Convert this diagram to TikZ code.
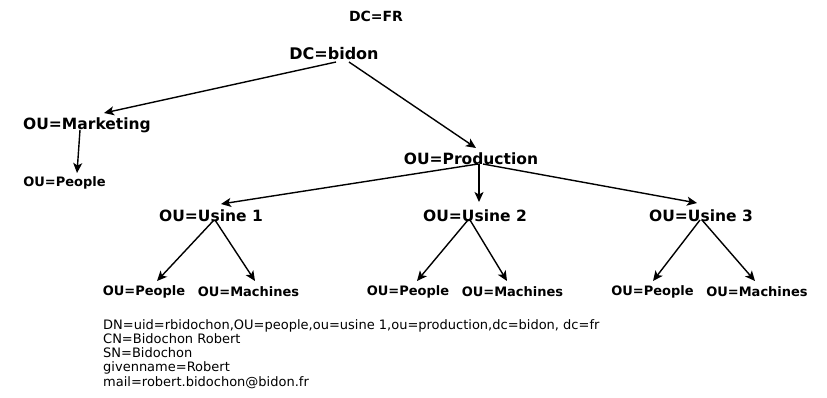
\documentclass[tikz,border=0pt]{standalone}
\usepackage{fontspec}
\setmainfont{DejaVu Sans}
\usetikzlibrary{arrows.meta,calc}
\tikzset{
  lbl/.style={inner sep=0pt, font=\bfseries\fontsize{#1}{#1}\selectfont},
  arr/.style={line width=1.4pt, -{Stealth[length=10pt,width=9pt,inset=2.5pt]}},
}
\begin{document}
\begin{tikzpicture}[x=1pt,y=1pt]
\useasboundingbox[fill=white] (0,0) rectangle (827,-397);
\node[lbl=14] (fr) at (376,-16) {DC=FR};
\node[lbl=16] (bidon) at (334,-54) {DC=bidon};
\node[lbl=15.5] (mkt) at (87,-125) {OU=Marketing};
\node[lbl=13] (ppl0) at (64.5,-183) {OU=People};
\node[lbl=15.5] (prod) at (471,-159) {OU=Production};
\node[lbl=15.5] (u1) at (211,-216) {OU=Usine 1};
\node[lbl=15.5] (u2) at (475,-216) {OU=Usine 2};
\node[lbl=15.5] (u3) at (701,-216) {OU=Usine 3};
\node[lbl=13] (p1) at (144,-292) {OU=People};
\node[lbl=13] (m1) at (248.5,-292) {OU=Machines};
\node[lbl=13] (p2) at (408,-292) {OU=People};
\node[lbl=13] (m2) at (512.5,-292) {OU=Machines};
\node[lbl=13] (p3) at (652.5,-292) {OU=People};
\node[lbl=13] (m3) at (757,-292) {OU=Machines};
\node[anchor=north west, inner sep=0pt, align=left, font=\fontsize{13}{14.3}\selectfont] (entry) at (103,-319)
  {DN=uid=rbidochon,OU=people,ou=usine 1,ou=production,dc=bidon, dc=fr\\
   CN=Bidochon Robert\\
   SN=Bidochon\\
   givenname=Robert\\
   mail=robert.bidochon@bidon.fr\\
   ...};
\draw[arr] ($(bidon)+(2,-8)$) -- ($(mkt)+(17,12)$);
\draw[arr] ($(bidon)+(15,-8)$) -- ($(prod)+(5,11)$);
\draw[arr] ($(mkt)+(-7,-5)$) -- ($(ppl0)+(12.5,10)$);
\draw[arr] ($(prod)+(7,-5)$) -- ($(u1)+(10,12)$);
\draw[arr] ($(prod)+(8,-5)$) -- ($(u2)+(4,14)$);
\draw[arr] ($(prod)+(12,-5)$) -- ($(u3)+(-4,13)$);
\draw[arr] ($(u1)+(3,-4)$) -- ($(p1)+(13,11)$);
\draw[arr] ($(u1)+(4,-4)$) -- ($(m1)+(6.5,11)$);
\draw[arr] ($(u2)+(-7,-4)$) -- ($(p2)+(9,11)$);
\draw[arr] ($(u2)+(-5,-4)$) -- ($(m2)+(-5.5,11)$);
\draw[arr] ($(u3)+(-1,-4)$) -- ($(p3)+(0.5,11)$);
\draw[arr] ($(u3)+(1,-4)$) -- ($(m3)+(-2,11)$);
\end{tikzpicture}
\end{document}
